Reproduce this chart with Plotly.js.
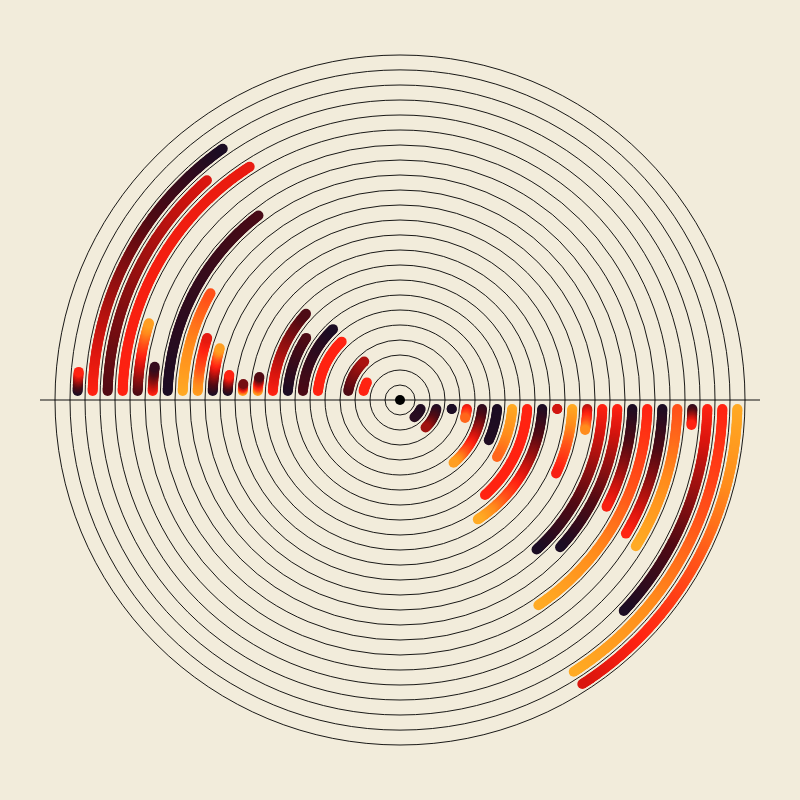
<!DOCTYPE html>
<html>
<head>
<meta charset="utf-8">
<script src="https://cdn.plot.ly/plotly-3.0.1.min.js"></script>
<style>
  html, body { margin: 0; padding: 0; background: #f2ecdb; }
  #chart { width: 800px; height: 800px; }
</style>
</head>
<body>
<div id="chart"></div>
<script>
// ---- data ----
// ring index: 1 = innermost ring, 22 = outermost ring
const rings = [1,2,3,4,5,6,7,8,9,10,11,12,13,14,15,16,17,18,19,20,21,22];

// left half: arcs start at 9 o'clock and sweep clockwise (upwards); end angle in degrees
const leftEnd  = [null, 28, 47, null, 45, 46.6, 33.5, 42.5, 9.3, 5.8, 8.3, 16, 17.8, 29.4, 52.5, 7.7, 17, 57.2, 48.7, 54.8, 5.0, null];
// colour value (0 = dark, 1 = amber) at the start and at the end of each arc
const leftFrom = [null, 0.62, 0.2, null, 0.62, 0.2, 0, 0.62, 0.95, 0.95, 0, 0, 0.95, 1.0, 0, 0.62, 0.2, 0.62, 0.22, 0.62, 0, null];
const leftTo   = [null, 0.62, 0.42, null, 0.62, 0, 0.2, 0.2, 0.22, 0.3, 0.62, 0.95, 0.55, 0.75, 0.18, 0.1, 0.95, 0.56, 0.52, 0, 0.62, null];

// right half: arcs start at 3 o'clock and sweep clockwise (downwards)
const rightEnd  = [50, 47, 9, 15.5, 49.5, 24.4, 30.4, 48.2, 56.9, 3.3, 25.2, 9.2, 47.6, 42.6, 27.3, 56, 30.6, 31.8, 4.9, 43.3, 57.4, 57.3];
const rightFrom = [0.02, 0.02, 0, 0.55, 0.08, 0, 1.0, 0.62, 0, 0.5, 1.0, 0.45, 0.62, 0.62, 0, 0.62, 0, 0.75, 0.1, 0.62, 0.62, 1.0];
const rightTo   = [0.05, 0.4, 0, 0.8, 0.95, 0.02, 0.8, 0.62, 1.0, 0.5, 0.6, 0.88, 0, 0, 0.6, 1.0, 0.62, 1.0, 0.62, 0, 1.0, 0.52];

// ---- style ----
const BG = '#f2ecdb';
const colorscale = [
  [0.00, '#1c0d24'],
  [0.22, '#520b14'],
  [0.40, '#a01210'],
  [0.52, '#da160f'],
  [0.62, '#ff2312'],
  [0.76, '#ff531a'],
  [0.88, '#ff8c1c'],
  [1.00, '#ffaa24']
];
const W = 800, DOM0 = 55 / 800, DOM1 = 745 / 800;
const RMAX = 23;
const pxPerUnit = (W * (DOM1 - DOM0) / 2) / RMAX;
const GAP_PX = 9;       // distance of arc start from the horizontal line
const STEP_PX = 1.4;    // sampling distance along the arc
const BAR_PX = 10;

function buildArcs(ends, from, to, baseTheta) {
  const r = [], th = [], c = [];
  rings.forEach((ring, i) => {
    if (ends[i] === null) return;
    const rr = ring + 0.5;
    const rpx = rr * pxPerUnit;
    const s = Math.asin(Math.min(1, GAP_PX / rpx)) * 180 / Math.PI;
    const e = Math.max(s, ends[i]);
    const len = (e - s) * Math.PI / 180 * rpx;
    const n = Math.max(1, Math.ceil(len / STEP_PX));
    for (let k = 0; k <= n; k++) {
      const t = k / n;
      r.push(rr);
      th.push(baseTheta + s + t * (e - s));
      c.push(from[i] + t * (to[i] - from[i]));
    }
  });
  return {r, th, c};
}

const L = buildArcs(leftEnd, leftFrom, leftTo, 180);
const R = buildArcs(rightEnd, rightFrom, rightTo, 0);

function arcTrace(d) {
  return {
    type: 'scatterpolar', mode: 'markers',
    r: d.r, theta: d.th,
    marker: { size: BAR_PX, color: d.c, colorscale: colorscale, cmin: 0, cmax: 1,
              line: { width: 0 }, showscale: false, opacity: 1 },
    hoverinfo: 'skip', showlegend: false
  };
}

const traces = [
  arcTrace(L),
  arcTrace(R),
  { type: 'scatterpolar', mode: 'markers', r: [0], theta: [0],
    marker: { size: 10, color: '#000000' }, hoverinfo: 'skip', showlegend: false }
];

const gridVals = [];
for (let k = 1; k < RMAX; k++) gridVals.push(k);

const layout = {
  width: 800, height: 800,
  margin: { l: 0, r: 0, t: 0, b: 0 },
  paper_bgcolor: BG, plot_bgcolor: BG,
  showlegend: false,
  polar: {
    domain: { x: [DOM0, DOM1], y: [DOM0, DOM1] },
    bgcolor: 'rgba(0,0,0,0)',
    radialaxis: {
      range: [0, RMAX], tickvals: gridVals, showticklabels: false, ticks: '',
      showline: false, showgrid: true, gridcolor: '#000000', gridwidth: 0.9
    },
    angularaxis: {
      rotation: 0, direction: 'clockwise',
      showgrid: false, showticklabels: false, ticks: '',
      showline: true, linecolor: '#000000', linewidth: 0.9
    }
  },
  shapes: [
    { type: 'line', xref: 'paper', yref: 'paper', x0: 40 / 800, x1: 760 / 800, y0: 0.5, y1: 0.5,
      line: { color: '#111111', width: 1 }, layer: 'below' }
  ]
};

Plotly.newPlot('chart', traces, layout, { displayModeBar: false, staticPlot: true });
</script>
</body>
</html>
